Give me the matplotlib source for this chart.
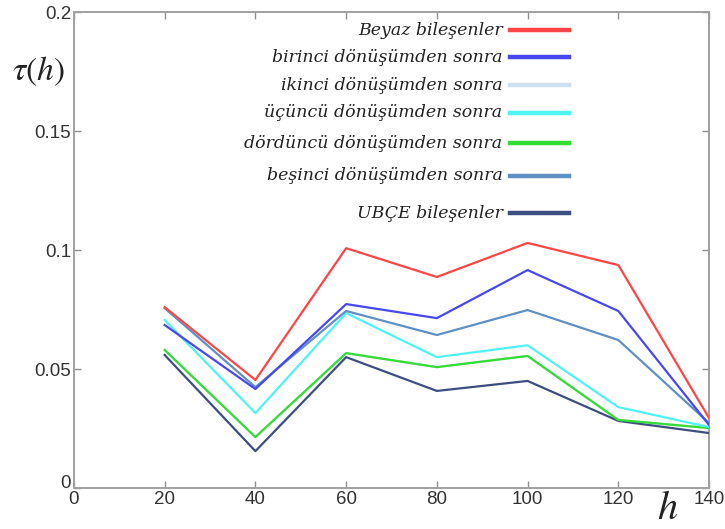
import matplotlib; matplotlib.use("Agg")
import matplotlib.pyplot as plt
from matplotlib.transforms import ScaledTranslation

plt.rcParams["mathtext.fontset"] = "stix"

h = [20, 40, 60, 80, 100, 120, 140]
beyaz    = [0.0760, 0.0454, 0.1008, 0.0887, 0.1030, 0.0937, 0.0294]
birinci  = [0.0685, 0.0416, 0.0773, 0.0714, 0.0916, 0.0744, 0.0265]
ikinci   = [0.0580, 0.0214, 0.0567, 0.0508, 0.0555, 0.0286, 0.0252]
ucuncu   = [0.0706, 0.0315, 0.0735, 0.0550, 0.0600, 0.0340, 0.0256]
dorduncu = [0.0580, 0.0214, 0.0567, 0.0508, 0.0555, 0.0286, 0.0252]
besinci  = [0.0756, 0.0424, 0.0744, 0.0643, 0.0748, 0.0622, 0.0273]
ubce     = [0.0559, 0.0155, 0.0550, 0.0408, 0.0450, 0.0282, 0.0231]

names = ["Beyaz bileşenler", "birinci dönüşümden sonra", "ikinci dönüşümden sonra",
         "üçüncü dönüşümden sonra", "dördüncü dönüşümden sonra",
         "beşinci dönüşümden sonra", "UBÇE bileşenler"]
colors = ["#ff4545", "#4848f0", "#cde0f0", "#4ef4f4", "#33dd33", "#5f90c4", "#3d4f80"]
series = [beyaz, birinci, ikinci, ucuncu, dorduncu, besinci, ubce]

fig = plt.figure(figsize=(7.25, 5.29), dpi=100)
ax = fig.add_axes([0.102, 0.0775, 0.876, 0.8995])

# draw order: light ones underneath
order = [2, 6, 4, 3, 5, 1, 0]
for i in order:
    ax.plot(h, series[i], color=colors[i], lw=1.6, zorder=3 + order.index(i))

ax.set_xlim(0, 140); ax.set_ylim(0, 0.2)
ax.set_xticks(range(0, 141, 20))
ax.set_yticks([0, 0.05, 0.1, 0.15, 0.2])
ax.set_yticklabels(["0", "0.05", "0.1", "0.15", "0.2"])
for s in ax.spines.values():
    s.set_color("#a0a0a0"); s.set_linewidth(1.4)
ax.tick_params(direction="in", top=True, right=True, length=5, width=1, color="#909090",
               labelsize=13.5, labelcolor="#333333", pad=2)
for lab in ax.get_xticklabels() + ax.get_yticklabels():
    lab.set_family("Liberation Sans")
# lift the y "0" a little so it sits clear of the x "0"
y0 = ax.get_yticklabels()[0]
y0.set_transform(y0.get_transform() + ScaledTranslation(0, 5 / 72, fig.dpi_scale_trans))

fig.text(0.017, 0.848, r"$\tau(h)$", fontsize=24, color="#222222")
fig.text(0.906, 0.018, r"$h$", fontsize=29, color="#222222")

# hand-made legend: text on the left, sample line on the right
rows_y = [0.943, 0.892, 0.839, 0.787, 0.729, 0.668, 0.597]
for name, c, yy in zip(names, colors, rows_y):
    fig.text(0.693, yy, name, ha="right", va="center", fontsize=12.5, style="italic",
             family="DejaVu Serif", color="#222222")
    fig.add_artist(plt.Line2D([0.703, 0.785], [yy, yy], color=c, lw=3.2,
                              transform=fig.transFigure))

fig.savefig("out.png", dpi=100, facecolor="white")
